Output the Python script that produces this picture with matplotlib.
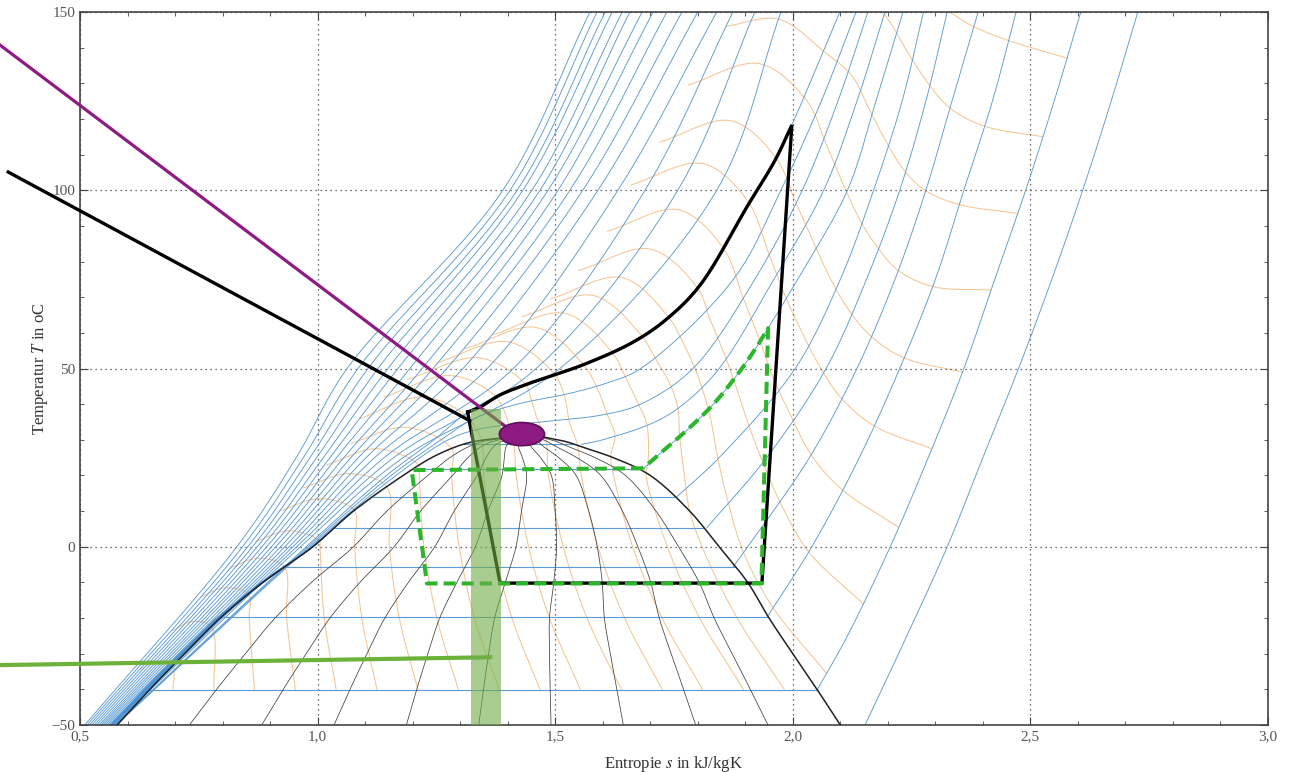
import numpy as np
import matplotlib.pyplot as plt
from matplotlib.patches import Ellipse, Rectangle
from matplotlib.ticker import MultipleLocator, FuncFormatter

plt.rcParams['font.family'] = ['Liberation Serif', 'DejaVu Serif']
plt.rcParams['mathtext.fontset'] = 'stix'

# saturation dome (T in degC, s in kJ/kgK)
dome_T = [-50, -40, -30, -20, -10, 0, 10, 20, 25, 28, 29.4, 30.4, 31]
dome_s_liq = [0.578, 0.647, 0.72, 0.795, 0.885, 0.99, 1.075, 1.18, 1.24, 1.29, 1.325, 1.38, 1.46]
dome_s_vap = [2.10, 2.051, 2.00, 1.95, 1.905, 1.845, 1.783, 1.70, 1.622, 1.556, 1.525, 1.49, 1.46]

quality = [0.1, 0.2, 0.3, 0.4, 0.5, 0.6, 0.7, 0.8, 0.9]

# isobars inside the dome (saturation temperatures, 10 ... 70 bar)
p_sat_T = [-40.2, -19.7, -5.7, 5.3, 14.0, 21.8, 28.7]

# isobars in the vapour / supercritical region
vap_T = [
    [-50, -25, 0, 25, 50, 75, 100, 125, 150],
    [-40.2, -25, 0, 25, 50, 75, 100, 125, 150],
    [-19.7, 0, 25, 50, 75, 100, 125, 150],
    [-5.7, 0, 25, 50, 75, 100, 125, 150],
    [5.3, 25, 50, 75, 100, 125, 150],
    [14.0, 25, 50, 75, 100, 125, 150],
    [21.8, 26.2, 32.7, 40.0, 49.3, 56.1, 61.3, 75, 100, 125, 150],
    [28.7, 30, 35, 40, 50, 75, 100, 125, 150],
    [-50, 0, 20, 30, 33, 35, 37, 40, 50, 75, 100, 125, 150],
    [-50, 0, 20, 30, 36, 40, 43, 46, 50, 75, 100, 125, 150],
    [-50, 0, 20, 30, 37.8, 42.6, 46.2, 51, 57.4, 63.9, 73.4, 95.9, 108.5, 118.3, 150],
]
vap_s = [
    [2.152, 2.24, 2.325, 2.40, 2.475, 2.545, 2.61, 2.67, 2.726],
    [2.051, 2.115, 2.205, 2.285, 2.36, 2.425, 2.49, 2.55, 2.606],
    [1.946, 2.04, 2.14, 2.225, 2.30, 2.36, 2.42, 2.47],
    [1.874, 1.905, 2.035, 2.135, 2.215, 2.28, 2.335, 2.39],
    [1.819, 1.945, 2.07, 2.155, 2.225, 2.28, 2.325],
    [1.756, 1.845, 2.005, 2.10, 2.17, 2.23, 2.275],
    [1.685, 1.721, 1.777, 1.833, 1.889, 1.924, 1.948, 2.01, 2.115, 2.175, 2.232],
    [1.555, 1.60, 1.71, 1.77, 1.845, 1.96, 2.065, 2.135, 2.194],
    [0.576, 0.984, 1.165, 1.275, 1.34, 1.47, 1.60, 1.68, 1.79, 1.92, 2.02, 2.095, 2.158],
    [0.575, 0.98, 1.155, 1.26, 1.33, 1.42, 1.53, 1.61, 1.68, 1.875, 1.975, 2.06, 2.133],
    [0.574, 0.976, 1.145, 1.245, 1.316, 1.384, 1.453, 1.558, 1.664, 1.735, 1.805, 1.906, 1.963, 1.998, 2.099],
]

# high pressure isobars (fan on the left), s read at these temperatures
fan_T = [-50, 0, 25, 50, 100, 150]
fan_s = [
    [0.510, 0.830, 0.955, 1.062, 1.390, 1.573],
    [0.515, 0.842, 0.970, 1.085, 1.405, 1.588],
    [0.520, 0.853, 0.984, 1.106, 1.420, 1.605],
    [0.525, 0.863, 0.998, 1.127, 1.432, 1.620],
    [0.530, 0.873, 1.012, 1.148, 1.451, 1.641],
    [0.535, 0.883, 1.026, 1.169, 1.468, 1.657],
    [0.540, 0.893, 1.040, 1.194, 1.485, 1.683],
    [0.544, 0.903, 1.055, 1.220, 1.506, 1.706],
    [0.548, 0.912, 1.070, 1.243, 1.531, 1.735],
    [0.552, 0.922, 1.086, 1.272, 1.558, 1.767],
    [0.556, 0.931, 1.102, 1.306, 1.590, 1.800],
    [0.560, 0.940, 1.120, 1.357, 1.632, 1.840],
    [0.564, 0.948, 1.140, 1.412, 1.689, 1.874],
    [0.568, 0.956, 1.160, 1.460, 1.758, 1.920],
    [0.571, 0.964, 1.180, 1.510, 1.840, 1.975],
]

# isenthalps (orange), point lists (s, T)
h_s = [
    [0.696, 0.695, 0.66, 0.625],
    [0.782, 0.776, 0.735, 0.695],
    [0.867, 0.856, 0.855, 0.805, 0.755],
    [0.953, 0.935, 0.930, 0.875, 0.815],
    [1.039, 1.014, 1.005, 1.004, 0.94, 0.87],
    [1.125, 1.093, 1.078, 1.077, 1.005, 0.92],
    [1.211, 1.172, 1.151, 1.146, 1.065, 0.97],
    [1.296, 1.251, 1.224, 1.214, 1.213, 1.125, 1.02],
    [1.382, 1.330, 1.298, 1.282, 1.282, 1.185, 1.07],
    [1.468, 1.409, 1.371, 1.350, 1.348, 1.345, 1.31, 1.22, 1.09],
    [1.553, 1.488, 1.444, 1.418, 1.414, 1.41, 1.375, 1.28, 1.14],
    [1.639, 1.567, 1.517, 1.486, 1.480, 1.462, 1.45, 1.438, 1.34, 1.19],
    [1.725, 1.646, 1.590, 1.555, 1.547, 1.53, 1.52, 1.498, 1.40, 1.25],
    [1.810, 1.725, 1.663, 1.623, 1.617, 1.626, 1.61, 1.59, 1.56, 1.46, 1.31],
    [1.896, 1.804, 1.736, 1.691, 1.695, 1.693, 1.675, 1.65, 1.62, 1.52, 1.37],
    [1.982, 1.883, 1.809, 1.783, 1.775, 1.762, 1.758, 1.74, 1.71, 1.68, 1.58, 1.43],
    [2.071, 1.958, 1.896, 1.862, 1.842, 1.825, 1.80, 1.77, 1.738, 1.64, 1.49],
    [2.148, 2.034, 1.975, 1.935, 1.905, 1.878, 1.85, 1.825, 1.80, 1.70, 1.55],
    [2.222, 2.104, 2.04, 1.995, 1.96, 1.93, 1.895, 1.855, 1.76, 1.61],
    [2.292, 2.17, 2.10, 2.055, 2.02, 1.985, 1.95, 1.905, 1.81, 1.66],
    [2.357, 2.234, 2.165, 2.12, 2.08, 2.045, 2.005, 1.965, 1.87, 1.72],
    [2.417, 2.294, 2.222, 2.178, 2.14, 2.105, 2.07, 2.03, 1.93, 1.78],
    [2.473, 2.35, 2.278, 2.232, 2.195, 2.16, 2.125, 2.065, 1.97, 1.86],
    [2.526, 2.403, 2.331, 2.285, 2.245, 2.21, 2.19],
    [2.579, 2.454, 2.379, 2.33],
]
h_T = [
    [-40, -33.4, -32.4, -34.5],
    [-40, -22.5, -21.0, -23.5],
    [-40, -20, -13.4, -11.5, -14.0],
    [-40, -20, -5.7, -3.2, -6.0],
    [-40, -20, 0, 1.7, 4.5, 1.5],
    [-40, -20, 0, 10.2, 13.5, 10.0],
    [-40, -20, 0, 16.7, 20.5, 16.5],
    [-40, -20, 0, 20, 22.9, 27.5, 23.0],
    [-40, -20, 0, 20, 27.5, 33.5, 29.0],
    [-40, -20, 0, 20, 28, 30.1, 37, 42, 36],
    [-40, -20, 0, 20, 28, 30.7, 42, 48, 42],
    [-40, -20, 0, 20, 30.5, 36, 41, 45.5, 53, 47],
    [-40, -20, 0, 20, 28.5, 35, 42, 48.5, 57.5, 51.5],
    [-40, -20, 0, 20, 25.3, 31.2, 37, 44, 51, 61.5, 55.5],
    [-40, -20, 0, 20.5, 23, 34.2, 40, 47, 54.5, 65.5, 59.5],
    [-40, -20, 0, 10, 16.5, 31, 39, 46, 53, 59.5, 70.5, 64.5],
    [-35.5, -17, -1.5, 13.5, 25, 37, 48, 57, 64.5, 75.5, 69.5],
    [-16, -1.5, 12, 24.3, 35, 46, 56, 64, 72.5, 83.5, 77.5],
    [5.5, 16, 25.5, 37, 47, 58, 70, 83.5, 94.5, 88.5],
    [27.5, 34, 42, 51, 60, 70, 82, 97, 107.5, 101.5],
    [49, 53, 59, 66, 75, 85, 97, 109, 119.5, 113.5],
    [72, 73, 77.5, 84, 92, 102, 113, 125, 135.5, 129.5],
    [93.5, 96, 100, 106, 114, 123, 132, 139, 148, 146],
    [115, 118, 123, 130, 138, 146, 150],
    [137, 142, 146, 150],
]

# refrigeration cycles
black_s = [1.316, 1.320, 1.384, 1.935, 1.998]
black_T = [37.8, 34.7, -10.2, -10.2, 118.3]
black_curve_s = [1.998, 1.963, 1.906, 1.805, 1.735, 1.664, 1.558, 1.453, 1.384, 1.342, 1.316]
black_curve_T = [118.3, 108.5, 95.9, 73.4, 63.9, 57.4, 51.0, 46.2, 42.6, 39.2, 37.8]
green_s = [1.685, 1.198, 1.230, 1.934, 1.948]
green_T = [22.0, 21.5, -10.3, -10.3, 61.3]
green_curve_s = [1.948, 1.924, 1.889, 1.833, 1.777, 1.721, 1.685]
green_curve_T = [61.3, 56.1, 49.3, 40.0, 32.7, 26.2, 22.0]

# callouts
purple_line_s = [0.332, 1.394]
purple_line_T = [140.7, 33.9]
black_line_s = [0.349, 1.321]
black_line_T = [105.1, 35.3]
green_line_s = [0.332, 1.363]
green_line_T = [-33.2, -31.0]
bar_s = [1.323, 1.386]
bar_T = [-50, 38.6]
marker_s, marker_T = 1.430, 31.6
marker_w, marker_h = 0.095, 6.5


def smooth(xs, ys, n=14):
    # centripetal Catmull-Rom through the points (drawing only), in pixel-like units
    kx, ky = 475.2, 3.565
    p = np.column_stack([np.asarray(xs, float) * kx, np.asarray(ys, float) * ky])
    if len(p) < 3:
        return p[:, 0] / kx, p[:, 1] / ky
    p = np.vstack([2 * p[0] - p[1], p, 2 * p[-1] - p[-2]])
    out = []
    for i in range(1, len(p) - 2):
        P0, P1, P2, P3 = p[i - 1], p[i], p[i + 1], p[i + 2]
        t0 = 0.0
        t1 = t0 + max(np.linalg.norm(P1 - P0), 1e-6) ** 0.5
        t2 = t1 + max(np.linalg.norm(P2 - P1), 1e-6) ** 0.5
        t3 = t2 + max(np.linalg.norm(P3 - P2), 1e-6) ** 0.5
        t = np.linspace(t1, t2, n, endpoint=False)[:, None]
        A1 = (t1 - t) / (t1 - t0) * P0 + (t - t0) / (t1 - t0) * P1
        A2 = (t2 - t) / (t2 - t1) * P1 + (t - t1) / (t2 - t1) * P2
        A3 = (t3 - t) / (t3 - t2) * P2 + (t - t2) / (t3 - t2) * P3
        B1 = (t2 - t) / (t2 - t0) * A1 + (t - t0) / (t2 - t0) * A2
        B2 = (t3 - t) / (t3 - t1) * A2 + (t - t1) / (t3 - t1) * A3
        out.append((t2 - t) / (t2 - t1) * B1 + (t - t1) / (t2 - t1) * B2)
    out.append(p[-2][None])
    out = np.vstack(out)
    return out[:, 0] / kx, out[:, 1] / ky


fig = plt.figure(figsize=(12.94, 7.72), dpi=100)
ax = fig.add_axes([80 / 1294, 47 / 772, 1188 / 1294, 713 / 772])

blue = '#5b9bd5'
orange = '#f6c593'

# liquid band: compressed liquid isobars hugging the saturated liquid line
band_T = [-50, -40, -30, -20, -10, 0, 10, 15]
band_w = [0.018, 0.016, 0.014, 0.012, 0.009, 0.006, 0.003, 0.0]
band_r = np.interp(band_T, dome_T, dome_s_liq)
ax.fill_betweenx(band_T, band_r - np.array(band_w), band_r, color='#3b8ad4', lw=0, zorder=2)

# isobars in the two-phase region
for t in p_sat_T:
    ax.plot([np.interp(t, dome_T, dome_s_liq), np.interp(t, dome_T, dome_s_vap)],
            [t, t], color=blue, lw=0.8, zorder=2)

for ss, tt in zip(vap_s, vap_T):
    x, y = smooth(ss, tt)
    ax.plot(x, y, color=blue, lw=0.65, zorder=2)

for ss in fan_s:
    x, y = smooth(ss, fan_T)
    ax.plot(x, y, color=blue, lw=0.65, zorder=2)

for ss, tt in zip(h_s, h_T):
    x, y = smooth(ss, tt)
    ax.plot(x, y, color=orange, lw=0.75, zorder=1.5)

# quality lines
for q in quality:
    qs = [a + q * (b - a) for a, b in zip(dome_s_liq, dome_s_vap)]
    x, y = smooth(qs, dome_T)
    ax.plot(x, y, color='#404040', lw=0.55, zorder=2.5)

# dome
x, y = smooth(dome_s_liq + dome_s_vap[::-1][1:], dome_T + dome_T[::-1][1:])
ax.plot(x, y, color='#222222', lw=1.1, zorder=3)

# cycles
cx, cy = smooth(black_curve_s, black_curve_T)
ax.plot(black_s + list(cx), black_T + list(cy), color='black', lw=2.4, zorder=5,
        solid_joinstyle='miter')
gx, gy = smooth(green_curve_s, green_curve_T)
ax.plot(green_s + list(gx), green_T + list(gy), color='#2cb62c', lw=2.9,
        ls=(0, (3, 1.5)), zorder=6)

# callout lines and marks
ax.plot(purple_line_s, purple_line_T, color='#8e1a84', lw=2.3, zorder=7, clip_on=False)
ax.plot(black_line_s, black_line_T, color='black', lw=2.4, zorder=7, clip_on=False)
ax.plot(green_line_s, green_line_T, color='#6cb23a', lw=3.0, zorder=7, clip_on=False)
ax.add_patch(Rectangle((bar_s[0], bar_T[0]), bar_s[1] - bar_s[0], bar_T[1] - bar_T[0],
                       facecolor='#70ad47', alpha=0.6, lw=0, zorder=8))
ax.add_patch(Ellipse((marker_s, marker_T), marker_w, marker_h, facecolor='#8e1a84',
                     edgecolor='#5e0f58', lw=1.2, zorder=9))

ax.set_xlim(0.5, 3.0)
ax.set_ylim(-50, 150)
ax.xaxis.set_major_locator(MultipleLocator(0.5))
ax.xaxis.set_minor_locator(MultipleLocator(0.1))
ax.yaxis.set_major_locator(MultipleLocator(50))
ax.yaxis.set_minor_locator(MultipleLocator(10))
ax.xaxis.set_major_formatter(FuncFormatter(lambda v, p: f'{v:.1f}'.replace('.', ',')))
ax.yaxis.set_major_formatter(FuncFormatter(lambda v, p: f'{v:.0f}'.replace('-', '\u2212')))
ax.tick_params(which='both', direction='in', top=True, right=True, colors='#444444',
               labelsize=11, labelcolor='#555555')
ax.tick_params(which='major', length=6)
ax.tick_params(which='minor', length=3)
ax.grid(which='major', color='#444444', lw=0.9, ls=(0, (1, 3)))
for sp in ax.spines.values():
    sp.set_color('#444444')
    sp.set_linewidth(1.2)

ax.set_xlabel('Entropie $s$ in kJ/kgK', fontsize=12, color='#333333', labelpad=8)
ax.set_ylabel('Temperatur $T$ in oC', fontsize=12, color='#333333', labelpad=1)

fig.savefig('out.png', dpi=100)
